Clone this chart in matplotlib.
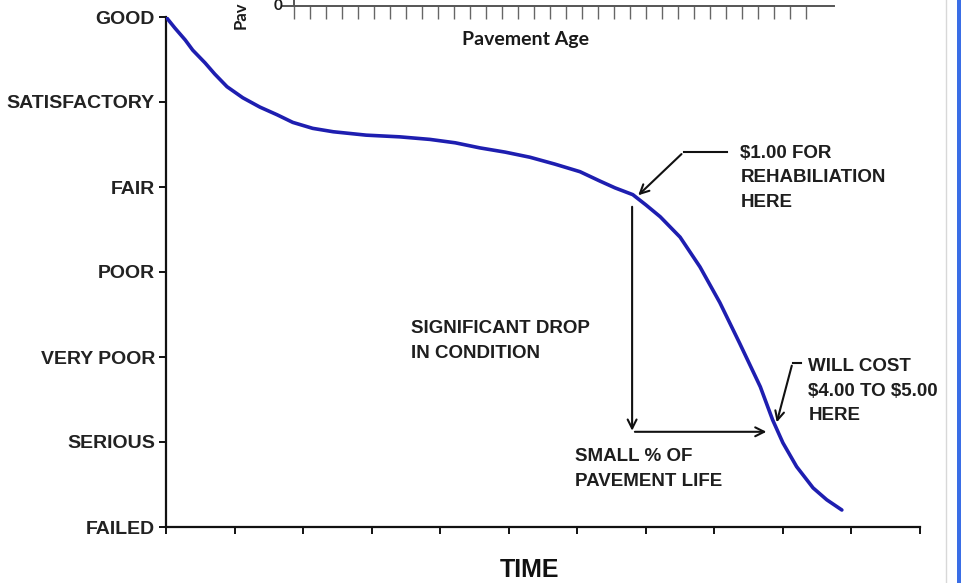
import matplotlib.pyplot as plt
from matplotlib.patches import Rectangle
from matplotlib.lines import Line2D

plt.rcParams['font.family'] = ['Liberation Sans', 'DejaVu Sans']

# === Data ===
condition_labels = ['FAILED', 'SERIOUS', 'VERY POOR', 'POOR', 'FAIR', 'SATISFACTORY', 'GOOD']
time_ticks = list(range(0, 12))

# deterioration curve (time units, condition level)
curve_t = [0.00, 0.13, 0.28, 0.39, 0.57, 0.71, 0.89, 1.12, 1.37, 1.62, 1.85, 2.14,
           2.44, 2.92, 3.41, 3.85, 4.22, 4.58, 4.95, 5.31, 5.67, 6.04, 6.33, 6.55,
           6.81, 7.00, 7.21, 7.50, 7.79, 8.08, 8.37, 8.67, 8.85, 9.00, 9.20, 9.44,
           9.64, 9.86]
curve_c = [6.00, 5.87, 5.73, 5.61, 5.46, 5.33, 5.18, 5.05, 4.94, 4.85, 4.76, 4.69,
           4.65, 4.61, 4.59, 4.56, 4.52, 4.46, 4.41, 4.35, 4.27, 4.18, 4.07, 3.99,
           3.91, 3.79, 3.65, 3.41, 3.06, 2.64, 2.16, 1.65, 1.26, 0.99, 0.71, 0.46,
           0.32, 0.20]

rehab_point = (6.86, 3.88)
costly_point = (8.90, 1.20)

age_ticks = list(range(0, 33))

W, H = 961, 583
fig = plt.figure(figsize=(W / 100, H / 100), dpi=100)

# === Main chart ===
ax = fig.add_axes([166 / W, 1 - 527 / H, 754 / W, 510 / H])
ax.plot(curve_t, curve_c, color='#1e1eb0', lw=2.6, solid_capstyle='round',
        solid_joinstyle='round', zorder=3)
ax.set_xlim(0, 11)
ax.set_ylim(0, 6)
ax.set_yticks(range(len(condition_labels)))
ax.set_yticklabels(condition_labels, fontsize=14, fontweight='bold', color='#222222')
ax.set_xticks(time_ticks)
ax.set_xticklabels([])
ax.tick_params(axis='both', direction='out', length=5, width=1.4, color='#111111', pad=3)
for s in ['top', 'right']:
    ax.spines[s].set_visible(False)
for s in ['left', 'bottom']:
    ax.spines[s].set_linewidth(1.6)
    ax.spines[s].set_color('#111111')

fig.text(530 / W, 1 - 570 / H, 'TIME', ha='center', va='center', fontsize=18,
         fontweight='bold', color='#111111')

arrow = dict(arrowstyle='->', color='#111111', lw=1.5, mutation_scale=16)
txt = dict(fontsize=13.5, fontweight='bold', color='#1e1e1e', va='top', ha='left',
           linespacing=1.6, parse_math=False)

# $1.00 callout
ax.plot([7.55, 8.19], [4.41, 4.41], color='#111111', lw=1.5)
ax.annotate('', xy=rehab_point, xytext=(7.55, 4.41), arrowprops=arrow)
ax.text(8.38, 4.50, '$1.00 FOR\nREHABILIATION\nHERE', **txt)

# drop / life arrows
ax.annotate('', xy=(6.80, 1.10), xytext=(6.80, 3.80), arrowprops=arrow)
ax.annotate('', xy=(8.80, 1.12), xytext=(6.80, 1.12), arrowprops=arrow)
ax.text(3.58, 2.43, 'SIGNIFICANT DROP\nIN CONDITION', **txt)
ax.text(5.97, 0.93, 'SMALL % OF\nPAVEMENT LIFE', **txt)

# $4-5 callout
ax.plot([9.14, 9.27], [1.93, 1.93], color='#111111', lw=1.5)
ax.annotate('', xy=costly_point, xytext=(9.14, 1.93), arrowprops=arrow)
ax.text(9.37, 1.99, 'WILL COST\n$4.00 TO $5.00\nHERE', **txt)

# === Cropped piece of another chart at the top ===
ax2 = fig.add_axes([282 / W, 1 - 6 / H, 552 / W, 0.06])
ax2.set_xlim(-0.75, 33.75)
ax2.set_ylim(0, 1)
ax2.set_xticks(age_ticks)
ax2.set_xticklabels([])
ax2.set_yticks([])
ax2.tick_params(axis='x', direction='out', length=9.5, width=1.0, color='#666666')
for s in ['top', 'right', 'left']:
    ax2.spines[s].set_visible(False)
ax2.spines['bottom'].set_color('#555555')
ax2.spines['bottom'].set_linewidth(1.4)
ax2.axvline(0, color='#555555', lw=1.4)
ax2.patch.set_alpha(0)
fig.text(526 / W, 1 - 39 / H, 'Pavement Age', ha='center', va='center', fontsize=14,
         fontweight='bold', family=['Lato', 'DejaVu Sans'], color='#1a1a1a')
fig.text(283 / W, 1 - 6 / H, '0', ha='right', va='center', fontsize=11,
         fontweight='bold', family=['Lato', 'DejaVu Sans'], color='#1a1a1a')
fig.text(241 / W, 1 - 29 / H, 'Pav', ha='center', va='bottom', rotation=90,
         fontsize=12, fontweight='bold', family=['Lato', 'DejaVu Sans'], color='#1a1a1a')

# === Right-hand frame ===
fig.add_artist(Line2D([946 / W, 946 / W], [0, 1], color='#d8d8d8', lw=1))
fig.add_artist(Rectangle((957 / W, 0), 4 / W, 1, color='#3a6ee6', lw=0))

fig.savefig('out.png', dpi=100)
